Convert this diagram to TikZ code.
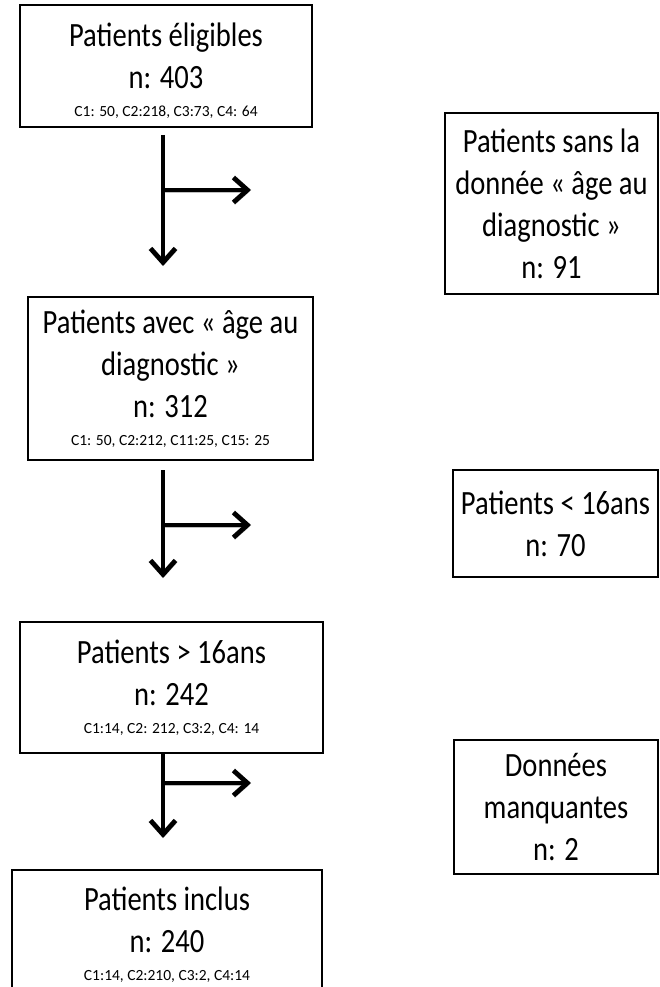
\documentclass[tikz,border=0pt]{standalone}
\usepackage{fontspec}
\setmainfont{Carlito}[FakeStretch=0.84]
\newfontfamily\cntfont{Carlito}
\usetikzlibrary{arrows.meta}

\tikzset{
	box/.style={draw, line width=1.3pt, inner sep=0pt, align=center, font=\fontsize{34}{42}\selectfont},
	flow/.style={line width=4.8pt, -{Straight Barb[length=14pt, width=25pt]},
		preaction={draw=black!25, transform canvas={shift={(1.5pt,-2pt)}}}}
}
\newcommand{\cnt}[1]{\cntfont\fontsize{15.5}{28}\selectfont #1}

\begin{document}
\begin{tikzpicture}[x=1pt, y=-1pt]
			\useasboundingbox (0, 0) rectangle (659, 987);
			
			\node[box, minimum width=292pt, minimum height=122pt] (P1) at (166, 66)
				{\rule{0pt}{32pt}Patients éligibles\\n: 403\\[-14pt]\cnt{C1: 50, C2:218, C3:73, C4: 64}};
			\node[box, minimum width=285pt, minimum height=163pt] (P2) at (170.5, 378.5)
				{Patients avec « âge au\\diagnostic »\\n: 312\\[-14pt]\cnt{C1: 50, C2:212, C11:25, C15: 25}};
			\node[box, minimum width=303pt, minimum height=131pt] (P3) at (171.5, 687.5)
				{Patients > 16ans\\n: 242\\[-14pt]\cnt{C1:14, C2: 212, C3:2, C4: 14}};
			\node[box, minimum width=310pt, minimum height=130pt] (P4) at (167, 935)
				{Patients inclus\\n: 240\\[-14pt]\cnt{C1:14, C2:210, C3:2, C4:14}};
			
			\node[box, minimum width=213pt, minimum height=181pt] (X1) at (551.5, 203.5)
				{Patients sans la\\donnée « âge au\\diagnostic »\\n: 91};
			\node[box, minimum width=205pt, minimum height=107pt] (X2) at (555.5, 523.5)
				{Patients < 16ans\\n: 70};
			\node[box, minimum width=204pt, minimum height=134pt] (X3) at (556, 807)
				{Données\\manquantes\\n: 2};
			
			\coordinate (S1) at (163, 135);
			\coordinate (E1) at (163, 266);
			\coordinate (K1) at (163, 190);
			\coordinate (T1) at (251, 190);
			\coordinate (S2) at (163, 470);
			\coordinate (E2) at (163, 578);
			\coordinate (K2) at (163, 525);
			\coordinate (T2) at (251, 525);
			\coordinate (S3) at (163, 753);
			\coordinate (E3) at (163, 838);
			\coordinate (K3) at (163, 783);
			\coordinate (T3) at (251, 783);
			
			\draw[flow] (S1) -- (E1);
			\draw[flow] (K1) -- (T1);
			\draw[flow] (S2) -- (E2);
			\draw[flow] (K2) -- (T2);
			\draw[flow] (S3) -- (E3);
			\draw[flow] (K3) -- (T3);
\end{tikzpicture}
\end{document}
